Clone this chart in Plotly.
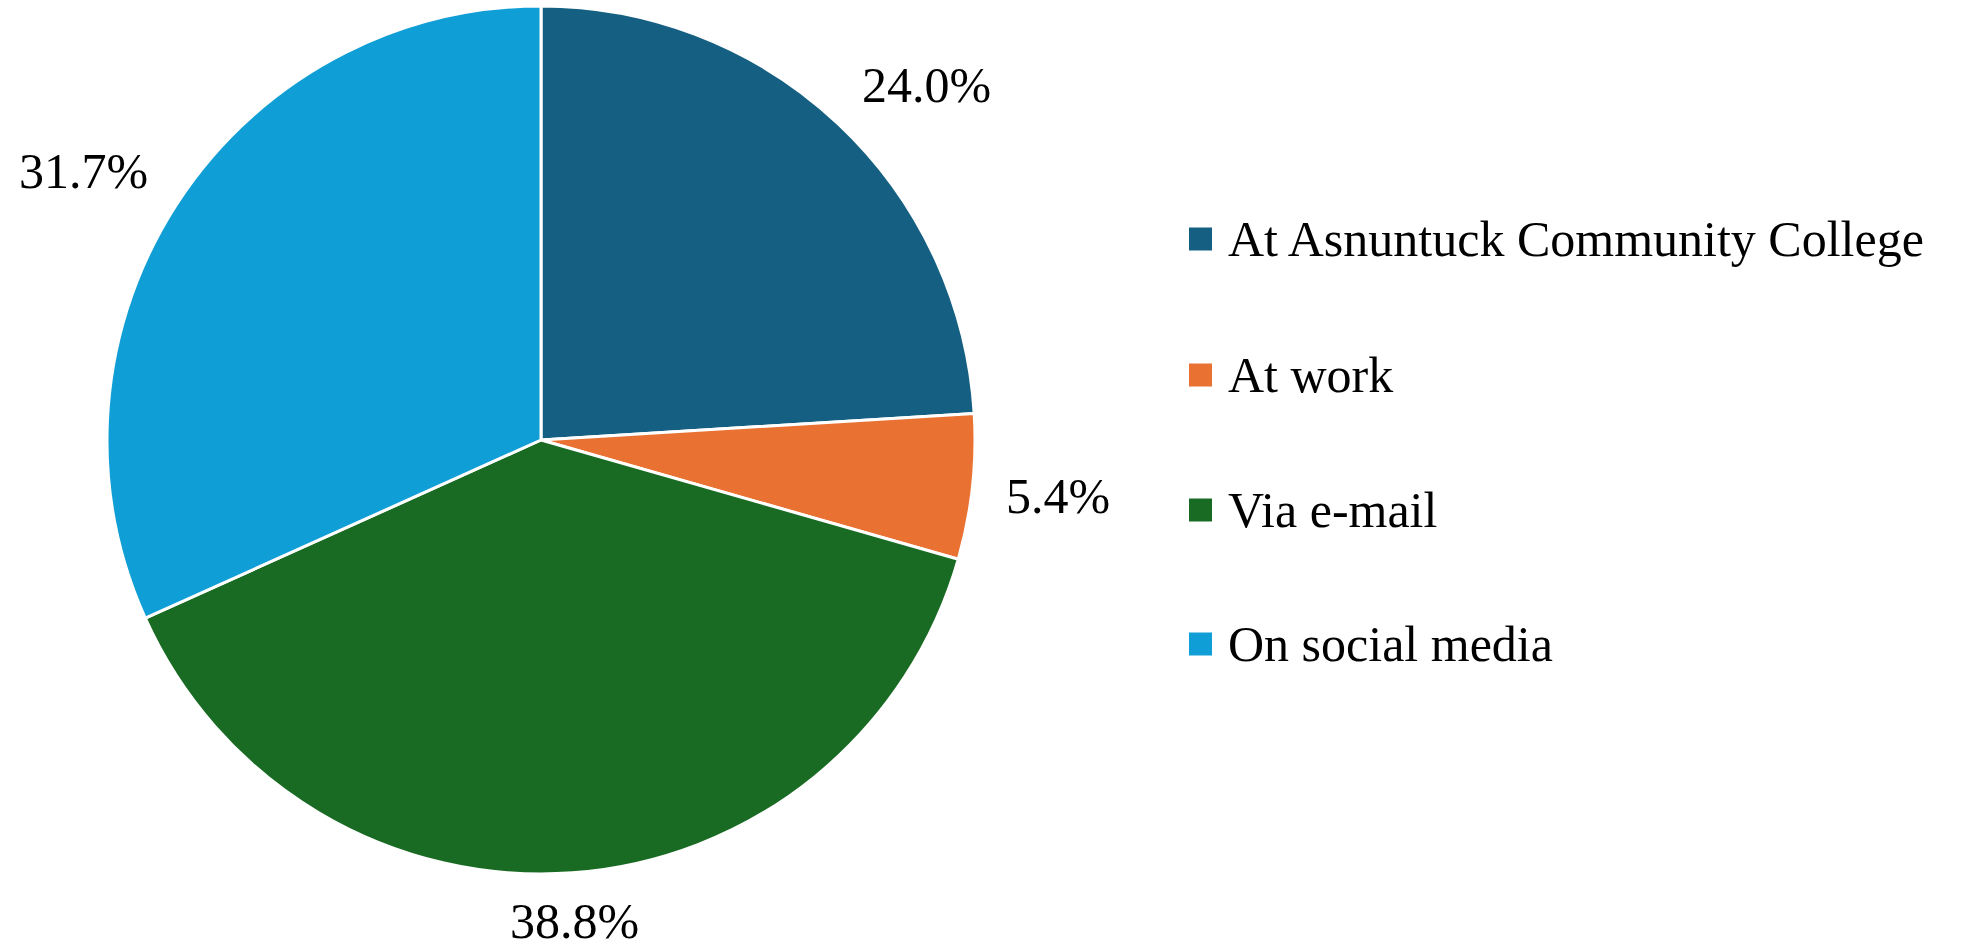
import math
import plotly.graph_objects as go

# Where respondents heard about the event (share of responses, %)
categories = ["At Asnuntuck Community College", "At work", "Via e-mail", "On social media"]
shares = [24.0, 5.4, 38.8, 31.7]
colors = ["#156082", "#E97132", "#196B24", "#0F9ED5"]

W, H = 1973, 950
FONT = "Liberation Serif"

# Pie placement in pixels
cx, cy, R = 541, 440, 434

fig = go.Figure(
    go.Pie(
        labels=categories,
        values=shares,
        sort=False,
        direction="clockwise",
        rotation=0,
        textinfo="none",
        hoverinfo="label+percent",
        marker=dict(colors=colors, line=dict(color="white", width=3)),
        domain=dict(x=[(cx - R) / W, (cx + R) / W], y=[1 - (cy + R) / H, 1 - (cy - R) / H]),
        showlegend=False,
    )
)

annotations = []
shapes = []

# Percentage labels just outside each slice, at the slice's mid-angle
total = sum(shares)
cum = 0.0
gap = 32
shift = {"bottom": -14, "middle": -6, "top": 14}
for v in shares:
    mid = (cum + v / 2) / total * 2 * math.pi
    cum += v
    s, c = math.sin(mid), math.cos(mid)
    px = cx + (R + gap) * s
    py = cy - (R + gap) * c
    xa = "left" if s > 0.3 else ("right" if s < -0.3 else "center")
    ya = "bottom" if c > 0.3 else ("top" if c < -0.3 else "middle")
    annotations.append(dict(
        x=px / W, y=1 - py / H, xref="paper", yref="paper",
        text=f"{v:.1f}%", showarrow=False, xanchor=xa, yanchor=ya,
        yshift=shift[ya],
        font=dict(family=FONT, size=50, color="#000000"),
    ))

# Legend: colour squares with category names
leg_y = [239, 375, 510, 644]
sq = 23
sq_x0 = 1189
for name, col, ly in zip(categories, colors, leg_y):
    shapes.append(dict(
        type="rect", xref="paper", yref="paper",
        x0=sq_x0 / W, x1=(sq_x0 + sq) / W,
        y0=1 - (ly + sq / 2) / H, y1=1 - (ly - sq / 2) / H,
        fillcolor=col, line=dict(width=0),
    ))
    annotations.append(dict(
        x=1226 / W, y=1 - ly / H, xref="paper", yref="paper",
        text=name, showarrow=False, xanchor="left", yanchor="middle",
        font=dict(family=FONT, size=50, color="#000000"),
    ))

fig.update_layout(
    width=W, height=H,
    margin=dict(l=0, r=0, t=0, b=0),
    paper_bgcolor="white", plot_bgcolor="white",
    annotations=annotations, shapes=shapes,
)

fig.write_html("out.html")
